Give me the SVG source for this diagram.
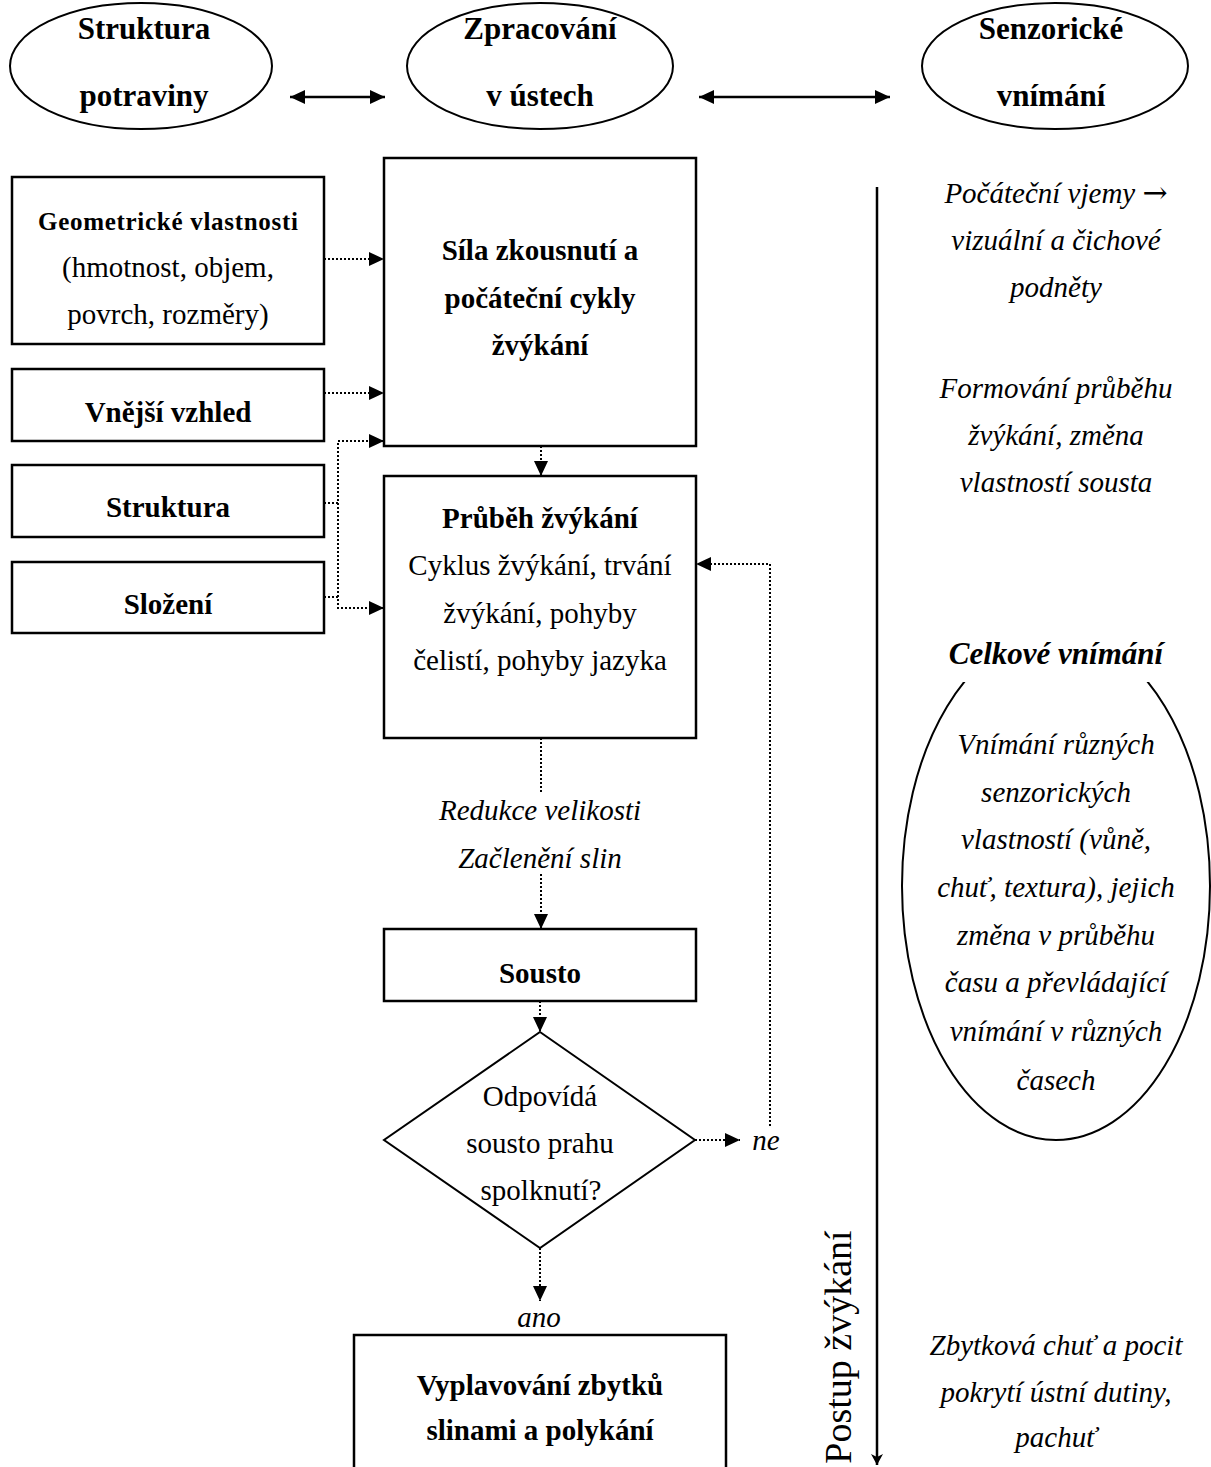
<svg xmlns="http://www.w3.org/2000/svg" width="1211" height="1467" viewBox="0 0 1211 1467">
  <defs>
    <style>
      text{font-family:"Liberation Serif","Times New Roman",serif;fill:#000;text-anchor:middle}
      .b{font-size:29px;font-weight:bold}
      .r{font-size:29px}
      .i{font-size:29px;font-style:italic}
      .bi{font-size:31px;font-weight:bold;font-style:italic}
      .t{font-size:31px;font-weight:bold}
      .arrowglyph{font-family:"DejaVu Serif",serif;font-style:normal;font-size:30px}
      .box{fill:#fff;stroke:#000;stroke-width:2.5}
      .oval{fill:#fff;stroke:#000;stroke-width:2}
      .dot{fill:none;stroke:#000;stroke-width:2;stroke-dasharray:2 2}
      .solid{fill:none;stroke:#000;stroke-width:2.5}
    </style>
    <marker id="ah" markerWidth="15" markerHeight="14" refX="15" refY="7" orient="auto-start-reverse" markerUnits="userSpaceOnUse">
      <path d="M0,0 L15,7 L0,14 Z" fill="#000"/>
    </marker>
    <marker id="ahs" markerWidth="12" markerHeight="12" refX="11" refY="6" orient="auto" markerUnits="userSpaceOnUse">
      <path d="M0,0 L11,6 L0,12 L3,6 Z" fill="#000"/>
    </marker>
    <clipPath id="lowerPart"><rect x="880" y="682" width="340" height="500"/></clipPath>
  </defs>

  <!-- column headings -->
  <g id="n-struktura-potraviny">
    <ellipse class="oval" cx="141" cy="66" rx="131" ry="63"/>
    <text class="t" x="144" y="39">Struktura</text>
    <text class="t" x="144" y="106">potraviny</text>
  </g>
  <g id="n-zpracovani">
    <ellipse class="oval" cx="540" cy="66" rx="133" ry="63"/>
    <text class="t" x="540" y="39">Zpracování</text>
    <text class="t" x="540" y="106">v ústech</text>
  </g>
  <g id="n-senzoricke">
    <ellipse class="oval" cx="1055" cy="66" rx="133" ry="63"/>
    <text class="t" x="1051" y="39">Senzorické</text>
    <text class="t" x="1051" y="106">vnímání</text>
  </g>

  <!-- food properties -->
  <g id="n-geometricke">
    <rect class="box" x="12" y="177" width="312" height="167"/>
    <text class="b" x="168" y="230" style="font-size:25px" textLength="260" lengthAdjust="spacing">Geometrické vlastnosti</text>
    <text class="r" x="168" y="277">(hmotnost, objem,</text>
    <text class="r" x="168" y="324">povrch, rozměry)</text>
  </g>
  <g id="n-vzhled">
    <rect class="box" x="12" y="369" width="312" height="72"/>
    <text class="b" x="168" y="422">Vnější vzhled</text>
  </g>
  <g id="n-struktura">
    <rect class="box" x="12" y="465" width="312" height="72"/>
    <text class="b" x="168" y="517">Struktura</text>
  </g>
  <g id="n-slozeni">
    <rect class="box" x="12" y="562" width="312" height="71"/>
    <text class="b" x="168" y="614">Složení</text>
  </g>

  <!-- oral processing -->
  <g id="n-sila">
    <rect class="box" x="384" y="158" width="312" height="288"/>
    <text class="b" x="540" y="260">Síla zkousnutí a</text>
    <text class="b" x="540" y="308">počáteční cykly</text>
    <text class="b" x="540" y="355">žvýkání</text>
  </g>
  <g id="n-prubeh">
    <rect class="box" x="384" y="476" width="312" height="262"/>
    <text class="b" x="540" y="528">Průběh žvýkání</text>
    <text class="r" x="540" y="575">Cyklus žvýkání, trvání</text>
    <text class="r" x="540" y="623">žvýkání, pohyby</text>
    <text class="r" x="540" y="670">čelistí, pohyby jazyka</text>
  </g>
  <g id="n-redukce">
    <text class="i" x="540" y="820">Redukce velikosti</text>
    <text class="i" x="540" y="868">Začlenění slin</text>
  </g>
  <g id="n-sousto">
    <rect class="box" x="384" y="929" width="312" height="72"/>
    <text class="b" x="540" y="983">Sousto</text>
  </g>
  <g id="n-rozhodnuti">
    <polygon points="540,1032 695,1140 540,1248 384,1140" fill="none" stroke="#000" stroke-width="2"/>
    <text class="r" x="540" y="1106">Odpovídá</text>
    <text class="r" x="540" y="1153">sousto prahu</text>
    <text class="r" x="541" y="1200">spolknutí?</text>
  </g>
  <g id="n-ne"><text class="i" x="766" y="1150">ne</text></g>
  <g id="n-ano"><text class="i" x="539" y="1327">ano</text></g>
  <g id="n-polykani">
    <rect class="box" x="354" y="1335" width="372" height="150"/>
    <text class="b" x="540" y="1395">Vyplavování zbytků</text>
    <text class="b" x="540" y="1440">slinami a polykání</text>
  </g>

  <!-- sensory perception -->
  <g id="n-pocatecni">
    <text class="i" x="1056" y="203">Počáteční vjemy <tspan class="arrowglyph">→</tspan></text>
    <text class="i" x="1056" y="250">vizuální a čichové</text>
    <text class="i" x="1056" y="297">podněty</text>
  </g>
  <g id="n-formovani">
    <text class="i" x="1056" y="398">Formování průběhu</text>
    <text class="i" x="1056" y="445">žvýkání, změna</text>
    <text class="i" x="1056" y="492">vlastností sousta</text>
  </g>
  <g id="n-celkove">
    <ellipse cx="1056" cy="886" rx="154" ry="254" fill="none" stroke="#000" stroke-width="2" clip-path="url(#lowerPart)"/>
    <text class="bi" x="1056" y="664">Celkové vnímání</text>
    <text class="i" x="1056" y="754">Vnímání různých</text>
    <text class="i" x="1056" y="802">senzorických</text>
    <text class="i" x="1056" y="849">vlastností (vůně,</text>
    <text class="i" x="1056" y="897">chuť, textura), jejich</text>
    <text class="i" x="1056" y="945">změna v průběhu</text>
    <text class="i" x="1056" y="992">času a převládající</text>
    <text class="i" x="1056" y="1041">vnímání v různých</text>
    <text class="i" x="1056" y="1090">časech</text>
  </g>
  <g id="n-zbytkova">
    <text class="i" x="1056" y="1355">Zbytková chuť a pocit</text>
    <text class="i" x="1056" y="1402">pokrytí ústní dutiny,</text>
    <text class="i" x="1056" y="1447">pachuť</text>
  </g>
  <g id="n-postup">
    <text class="r" style="font-size:38px" transform="translate(851,1347) rotate(-90)">Postup žvýkání</text>
  </g>

  <!-- connectors -->
  <g id="connectors">
    <line class="solid" x1="290" y1="97" x2="385" y2="97" marker-start="url(#ah)" marker-end="url(#ah)"/>
    <line class="solid" x1="699" y1="97" x2="890" y2="97" marker-start="url(#ah)" marker-end="url(#ah)"/>

    <line class="dot" x1="324" y1="259" x2="384" y2="259" marker-end="url(#ah)"/>
    <line class="dot" x1="324" y1="393" x2="384" y2="393" marker-end="url(#ah)"/>
    <polyline class="dot" points="324,503 338,503"/>
    <polyline class="dot" points="324,597 338,597"/>
    <polyline class="dot" points="384,441 338,441 338,608 384,608" marker-start="url(#ah)" marker-end="url(#ah)"/>

    <line class="dot" x1="541" y1="446" x2="541" y2="476" marker-end="url(#ah)"/>
    <line class="dot" x1="541" y1="738" x2="541" y2="792"/>
    <line class="dot" x1="541" y1="874" x2="541" y2="929" marker-end="url(#ah)"/>
    <line class="dot" x1="540" y1="1001" x2="540" y2="1032" marker-end="url(#ah)"/>
    <line class="dot" x1="695" y1="1140" x2="740" y2="1140" marker-end="url(#ah)"/>
    <polyline class="dot" points="770,1126 770,564 696,564" marker-end="url(#ah)"/>
    <line class="dot" x1="540" y1="1248" x2="540" y2="1301" marker-end="url(#ah)"/>

    <line class="solid" x1="877" y1="187" x2="877" y2="1465" marker-end="url(#ahs)"/>
  </g>
</svg>
